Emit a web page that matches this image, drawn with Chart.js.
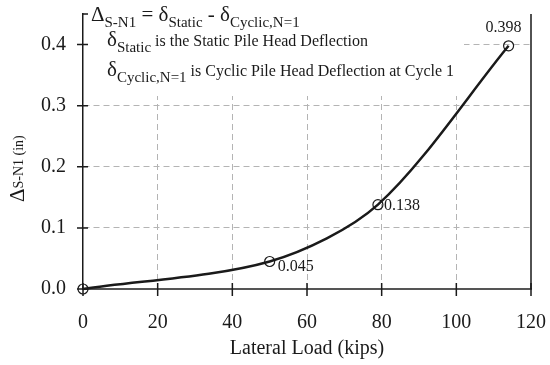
<!DOCTYPE html>
<html>
<head>
<meta charset="utf-8">
<script src="https://cdn.jsdelivr.net/npm/chart.js@4.4.1/dist/chart.umd.min.js"></script>
<style>
  html, body { margin: 0; padding: 0; background: #fff; }
  #wrap { width: 550px; height: 365px; }
</style>
</head>
<body>
<div id="wrap"><canvas id="chart"></canvas></div>
<script>
// values
const loads = [0, 50, 79, 114];
const deltaSN1 = [0.0, 0.045, 0.138, 0.398];
const xTicks = [0, 20, 40, 60, 80, 100, 120];
const yTicks = [0.0, 0.1, 0.2, 0.3, 0.4];

const SERIF = "'Liberation Serif', 'DejaVu Serif', serif";
const INK = '#1a1a1a';
const GRID = '#b4b4b4';

// draw a run of text pieces, each with its own size and baseline shift
function drawRuns(ctx, x, y, runs) {
  for (const [txt, size, shift] of runs) {
    ctx.font = size + 'px ' + SERIF;
    ctx.fillText(txt, x, y + shift);
    x += ctx.measureText(txt).width;
  }
}

const decor = {
  id: 'decor',
  beforeDatasetsDraw(chart) {
    const { ctx, chartArea: a } = chart;
    ctx.save();
    // white note box over the grid
    ctx.fillStyle = '#fff';
    ctx.fillRect(a.left + 3, 0, 378, 96);
    // right frame line + the little top corner
    ctx.strokeStyle = INK;
    ctx.lineWidth = 1.5;
    ctx.beginPath();
    ctx.moveTo(a.right, a.top);
    ctx.lineTo(a.right, a.bottom);
    ctx.moveTo(a.left, a.top);
    ctx.lineTo(a.left + 5, a.top);
    ctx.stroke();

    // crossing tick marks
    const xs = chart.scales.x, ys = chart.scales.y;
    ctx.beginPath();
    xTicks.forEach(v => {
      const px = xs.getPixelForValue(v);
      ctx.moveTo(px, a.bottom - 6);
      ctx.lineTo(px, a.bottom + 7);
    });
    yTicks.forEach(v => {
      const py = ys.getPixelForValue(v);
      ctx.moveTo(a.left - 6, py);
      ctx.lineTo(a.left + 5, py);
    });
    ctx.stroke();

    // note text
    ctx.fillStyle = INK;
    ctx.textAlign = 'left';
    ctx.textBaseline = 'alphabetic';
    drawRuns(ctx, 91, 21, [['\u0394', 21, 0], ['S-N1', 15, 6], [' = \u03b4', 21, 0], ['Static', 15, 6], [' - \u03b4', 21, 0], ['Cyclic,N=1', 15, 6]]);
    drawRuns(ctx, 107, 46, [['\u03b4', 21, 0], ['Static', 15, 6], [' is the Static Pile Head Deflection', 16, 0]]);
    drawRuns(ctx, 107, 76, [['\u03b4', 21, 0], ['Cyclic,N=1', 15, 6], [' is Cyclic Pile Head Deflection at Cycle 1', 16, 0]]);

    // y axis title
    ctx.translate(24, 202);
    ctx.rotate(-Math.PI / 2);
    drawRuns(ctx, 0, 0, [['\u0394', 21, 0], ['S-N1 (in)', 14, -1]]);
    ctx.restore();
  },
  afterDatasetsDraw(chart) {
    const { ctx } = chart;
    const pts = chart.getDatasetMeta(0).data;
    const offs = [null, [8, 5, 'left'], [6, 1, 'left'], [-5, -18, 'center']];
    ctx.save();
    ctx.fillStyle = INK;
    ctx.font = '16px ' + SERIF;
    ctx.textBaseline = 'middle';
    pts.forEach((p, i) => {
      if (!offs[i]) return;
      ctx.textAlign = offs[i][2];
      ctx.fillText(deltaSN1[i].toFixed(3), p.x + offs[i][0], p.y + offs[i][1]);
    });
    ctx.restore();
  }
};

new Chart(document.getElementById('chart'), {
  type: 'line',
  data: {
    datasets: [{
      data: loads.map((x, i) => ({ x, y: deltaSN1[i] })),
      borderColor: INK,
      borderWidth: 2.5,
      tension: 0.3,
      pointRadius: 5,
      pointStyle: 'circle',
      pointBackgroundColor: 'rgba(0,0,0,0)',
      pointBorderColor: INK,
      pointBorderWidth: 1.2,
      fill: false,
      clip: false,
    }]
  },
  options: {
    responsive: true,
    maintainAspectRatio: false,
    animation: false,
    events: [],
    layout: { padding: { left: 0, right: 19, top: 14, bottom: 0 } },
    plugins: {
      legend: { display: false },
      tooltip: { enabled: false },
    },
    scales: {
      x: {
        type: 'linear',
        min: 0,
        max: 120,
        afterBuildTicks: s => { s.ticks = xTicks.map(v => ({ value: v })); },
        afterFit: s => { s.height = 76; s.paddingLeft = 0; s.paddingRight = 0; },
        grid: {
          drawTicks: false,
          color: c => (c.tick && (c.tick.value === 0 || c.tick.value === 120)) ? 'rgba(0,0,0,0)' : GRID,
          lineWidth: 1,
        },
        border: { display: true, color: '#555', width: 2, dash: [6, 4] },
        ticks: { color: INK, padding: 22, font: { family: SERIF, size: 20 } },
        title: {
          display: true,
          text: 'Lateral Load (kips)',
          color: INK,
          font: { family: SERIF, size: 20 },
          padding: { top: 0, bottom: 4 },
        },
      },
      y: {
        type: 'linear',
        min: 0,
        max: 0.45,
        afterBuildTicks: s => { s.ticks = yTicks.map(v => ({ value: v })); },
        afterFit: s => { s.width = 83; s.paddingTop = 0; s.paddingBottom = 0; },
        grid: {
          drawTicks: false,
          color: c => (c.tick && c.tick.value === 0) ? 'rgba(0,0,0,0)' : GRID,
          lineWidth: 1,
        },
        border: { display: true, color: INK, width: 1.5, dash: [6, 4] },
        ticks: {
          color: INK,
          padding: 17,
          font: { family: SERIF, size: 20 },
          callback: v => v.toFixed(1),
        },
      },
    },
  },
  plugins: [decor],
});
</script>
</body>
</html>
